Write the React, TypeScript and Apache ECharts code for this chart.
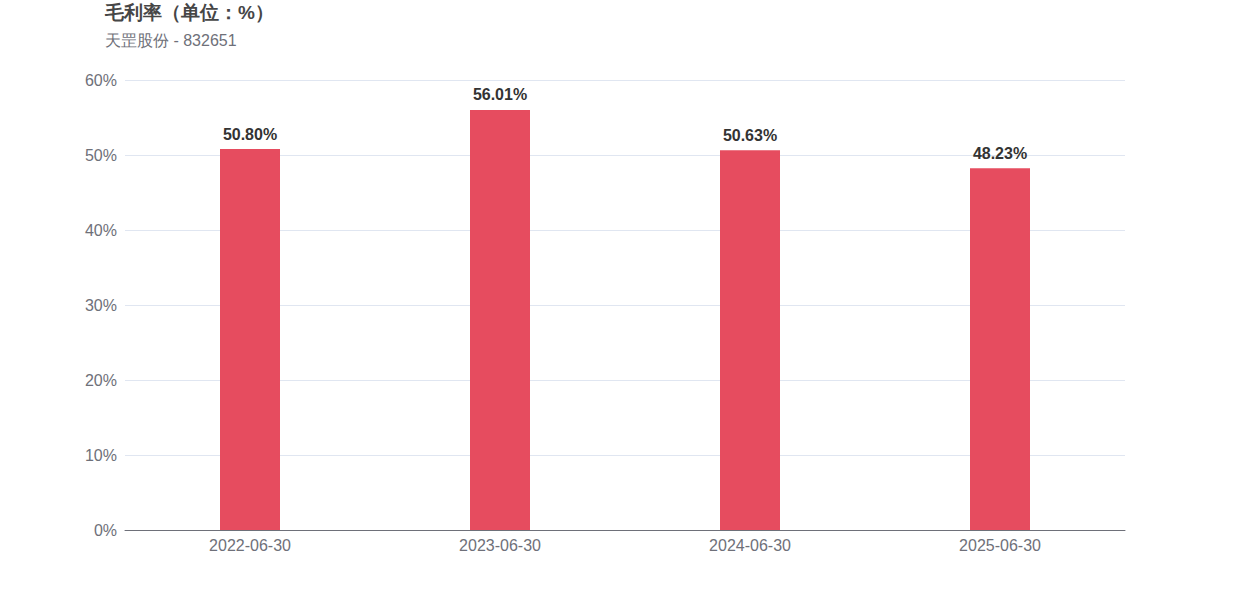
import React, { useEffect, useRef } from "react";
import * as echarts from "echarts";

const categories = ["2022-06-30", "2023-06-30", "2024-06-30", "2025-06-30"];
const grossMargin = [50.8, 56.01, 50.63, 48.23];
const titleText = "毛利率（单位：%）";
const subtitleText = "天罡股份 - 832651";

export default function App() {
  const ref = useRef<HTMLDivElement>(null);
  useEffect(() => {
    document.body.style.margin = "0";
    if (!ref.current) return;
    const chart = echarts.init(ref.current, null, { renderer: "svg" });
    chart.setOption({
      animation: false,
      title: {
        text: titleText,
        subtext: subtitleText,
        left: 100,
        top: -2,
        itemGap: 10,
        textStyle: { fontSize: 19, fontWeight: "bold", color: "#464646", fontFamily: "sans-serif" },
        subtextStyle: { fontSize: 16, color: "#6E7079", fontFamily: "sans-serif" },
      },
      grid: { left: 125, right: 125, top: 80, bottom: 70, containLabel: false },
      xAxis: {
        type: "category",
        data: categories,
        axisTick: { show: false },
        axisLine: { lineStyle: { color: "#6E7079" } },
        axisLabel: { fontSize: 16, color: "#6E7079", margin: 7 },
      },
      yAxis: {
        type: "value",
        min: 0,
        max: 60,
        interval: 10,
        axisLabel: { formatter: "{value}%", fontSize: 16, color: "#6E7079", margin: 8, padding: [0, 0, 4, 0] },
        splitLine: { lineStyle: { color: "#E0E6F1" } },
      },
      series: [
        {
          type: "bar",
          data: grossMargin,
          barWidth: 60,
          itemStyle: { color: "#E64C5F" },
          label: {
            show: true,
            position: "top",
            distance: 7,
            formatter: (p: any) => p.value.toFixed(2) + "%",
            fontSize: 16,
            fontWeight: "bold",
            color: "#333",
          },
        },
      ],
    });
    return () => chart.dispose();
  }, []);
  return <div ref={ref} style={{ width: 1250, height: 600 }} />;
}
